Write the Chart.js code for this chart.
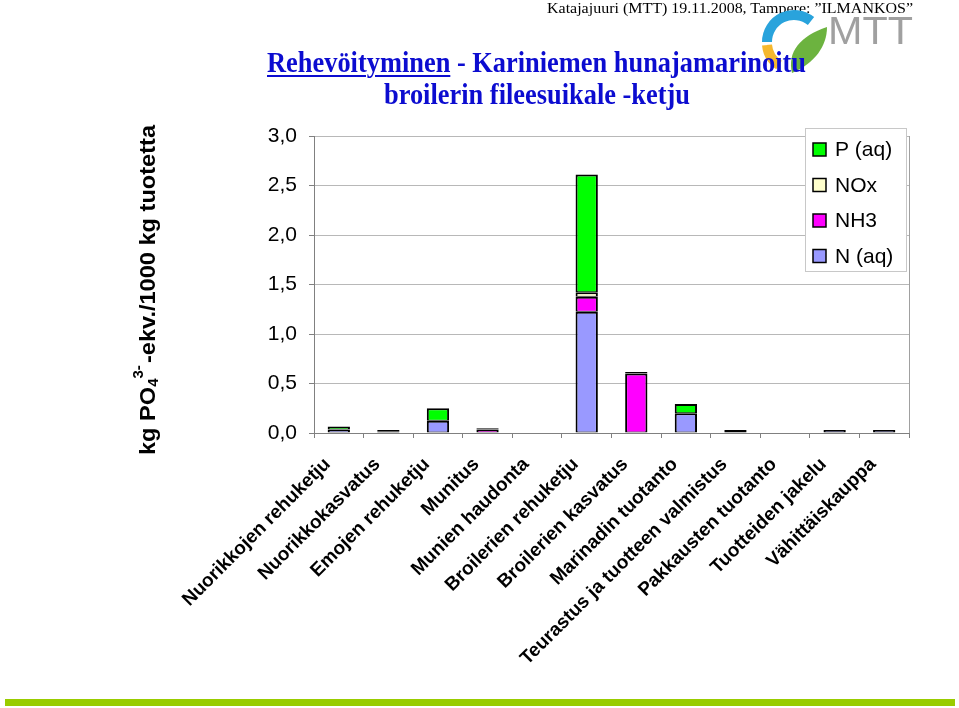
<!DOCTYPE html>
<html><head><meta charset="utf-8">
<script src="https://cdn.jsdelivr.net/npm/chart.js@4.4.0/dist/chart.umd.min.js"></script>
<style>
html,body{margin:0;padding:0;background:#fff;width:959px;height:708px;overflow:hidden;}
body{position:relative;}
#c{position:absolute;left:0;top:0;}
.t{position:absolute;white-space:nowrap;transform-origin:0 0;}
.ttl{font-family:"Liberation Serif","Times New Roman",serif;font-weight:bold;font-size:29px;line-height:29px;color:#0c0cd0;}
#cite{font-family:"Liberation Serif","Times New Roman",serif;font-size:15px;line-height:15px;color:#000;}
#bar{position:absolute;left:5px;top:699px;width:950px;height:7px;background:#99cc00;}
#logo{position:absolute;left:0;top:0;}
</style></head><body>
<canvas id="c" width="959" height="708"></canvas>
<div id="cite" class="t">Katajajuuri (MTT) 19.11.2008, Tampere: ”ILMANKOS”</div>
<svg id="logo" width="959" height="120" xmlns="http://www.w3.org/2000/svg">
  <path d="M 767 42 A 27 27 0 0 1 811 21" fill="none" stroke="#29a3dc" stroke-width="10"/>
  <path d="M 767 45 A 27 27 0 0 0 779 65" fill="none" stroke="#f5b82e" stroke-width="10"/>
  <path d="M 792 73 C 787 52, 800 36, 827 27 C 827 46, 815 63, 792 73 Z" fill="#6cb33f"/>
  <text x="828" y="44" font-family="Liberation Sans, Arial, sans-serif" font-size="39" fill="#a0a0a0" textLength="85" lengthAdjust="spacingAndGlyphs">MTT</text>
</svg>
<div id="t1" class="t ttl"><u style="text-decoration-thickness:2px;text-underline-offset:3px;">Rehevöityminen</u> - Kariniemen hunajamarinoitu</div>
<div id="t2" class="t ttl">broilerin fileesuikale -ketju</div>
<div id="bar"></div>
<script>
// ---- data ----
const categories = ['Nuorikkojen rehuketju','Nuorikkokasvatus','Emojen rehuketju','Munitus','Munien haudonta','Broilerien rehuketju','Broilerien kasvatus','Marinadin tuotanto','Teurastus ja tuotteen valmistus','Pakkausten tuotanto','Tuotteiden jakelu','Vähittäiskauppa'];
const seriesLabels = ['N (aq)','NH3','NOx','P (aq)'];
const nAq = [0.035,0.018,0.125,0,    0,1.225,0,    0.2,  0.02, 0,0.03,0.03];
const nh3 = [0,    0.012,0,    0.035,0,0.152,0.6,  0,    0,    0,0,   0];
const nox = [0,    0,    0,    0,    0,0.045,0,    0,    0,    0,0,   0];
const pAq = [0.03, 0,    0.125,0.012,0,1.19, 0.015,0.093,0.01, 0,0,   0];
const yTickValues = [0,0.5,1,1.5,2,2.5,3];
const yTitleParts = [['kg PO','n'],['4','sub'],['3-','sup'],['-ekv./1000 kg tuotetta','n']];

// ---- styles ----
const seriesColors = ['#9999FF','#FF00FF','#FFFFCC','#00FF00'];
const FONT = '"Liberation Sans", Arial, sans-serif';

// ---- header texts fit ----
function fit(el, targetW){ const w = el.getBoundingClientRect().width; return targetW / w; }
const t1 = document.getElementById('t1'), t2 = document.getElementById('t2'), cite = document.getElementById('cite');
const k = fit(t1, 539);
const w1 = t1.getBoundingClientRect().width*k, w2 = t2.getBoundingClientRect().width*k;
t1.style.transform = `scaleX(${k})`; t2.style.transform = `scaleX(${k})`;
t1.style.left = (536 - w1/2)+'px'; t1.style.top = '47.7px';
t2.style.left = (537 - w2/2)+'px'; t2.style.top = '79.7px';
const kc = fit(cite, 366);
cite.style.transform = `scaleX(${kc})`; cite.style.left = (913-366)+'px'; cite.style.top = '1px';

// ---- plugin: frame, y title, legend ----
const decor = {
  id:'decor',
  afterDraw(chart){
    const {ctx, chartArea:a} = chart;
    ctx.save();
    ctx.strokeStyle = '#a0a0a0'; ctx.lineWidth = 1;
    const rx = Math.round(a.right)+0.5;
    ctx.beginPath(); ctx.moveTo(rx, a.top); ctx.lineTo(rx, a.bottom); ctx.stroke();

    const fontFor = t => t==='n' ? `bold 22px ${FONT}` : `bold 14px ${FONT}`;
    const offFor = t => t==='sub' ? 3 : (t==='sup' ? -12 : 0);
    let total = 0;
    yTitleParts.forEach(([s,t]) => { ctx.font = fontFor(t); total += ctx.measureText(s).width + (t==='sup'?2:0); });
    const sx = 330/total;
    ctx.translate(155, 290); ctx.rotate(-Math.PI/2); ctx.scale(sx, 1);
    ctx.fillStyle = '#000'; ctx.textBaseline = 'alphabetic'; ctx.textAlign = 'left';
    let x = -total/2;
    yTitleParts.forEach(([s,t]) => { ctx.font = fontFor(t); ctx.fillText(s, x, offFor(t)); x += ctx.measureText(s).width + (t==='sup'?2:0); });
    ctx.setTransform(1,0,0,1,0,0);

    const L = {x:805.5, y:128.5, w:101, h:143};
    ctx.fillStyle = '#fff'; ctx.fillRect(L.x, L.y, L.w, L.h);
    ctx.strokeStyle = '#c8c8c8'; ctx.lineWidth = 1; ctx.strokeRect(L.x, L.y, L.w, L.h);
    const ds = chart.data.datasets.slice().reverse();
    ds.forEach((d,i) => {
      const cy = 149.5 + i*35.5;
      ctx.fillStyle = d.backgroundColor; ctx.fillRect(813, cy-6.5, 13, 13);
      ctx.strokeStyle = '#000'; ctx.lineWidth = 1.5; ctx.strokeRect(813, cy-6.5, 13, 13);
      ctx.fillStyle = '#000'; ctx.font = `21px ${FONT}`; ctx.textBaseline = 'middle';
      ctx.fillText(d.label, 835, cy+1);
    });
    ctx.restore();
  }
};

const seriesValues = [nAq, nh3, nox, pAq];
new Chart(document.getElementById('c').getContext('2d'), {
  type:'bar',
  data:{
    labels: categories,
    datasets: seriesLabels.map((lab,i) => ({
      label: lab, data: seriesValues[i],
      backgroundColor: seriesColors[i], borderColor:'#000',
      borderWidth:{top:2, left:2, right:2, bottom:1}, borderSkipped:false,
      inflateAmount:0,
      barPercentage:0.45, categoryPercentage:1
    }))
  },
  options:{
    responsive:false, animation:false, devicePixelRatio:1,
    layout:{padding:{top:136, right:50, left:0, bottom:0}},
    plugins:{legend:{display:false}, tooltip:{enabled:false}, title:{display:false}},
    scales:{
      x:{
        stacked:true, offset:true,
        grid:{display:true, drawOnChartArea:false, drawTicks:true, tickLength:5, tickColor:'#808080'},
        border:{color:'#808080', width:1},
        ticks:{autoSkip:false, minRotation:45, maxRotation:45, padding:4, color:'#000',
               font:{family:FONT, size:19, weight:'bold'},
               callback(v){ return this.getLabelForValue(v) + '   '; }},
        afterFit(s){ s.height = 275; }
      },
      y:{
        stacked:true, min:0, max:3,
        afterBuildTicks(s){ s.ticks = yTickValues.map(v => ({value:v})); },
        ticks:{padding:12, color:'#000', font:{family:FONT, size:21},
               callback: v => Number(v).toFixed(1).replace('.', ',')},
        grid:{color:'#b8b8b8', tickColor:'#808080', tickLength:5, drawTicks:true},
        border:{color:'#808080', width:1},
        afterFit(s){ s.width = 314; }
      }
    }
  },
  plugins:[decor]
});
</script>
</body></html>
